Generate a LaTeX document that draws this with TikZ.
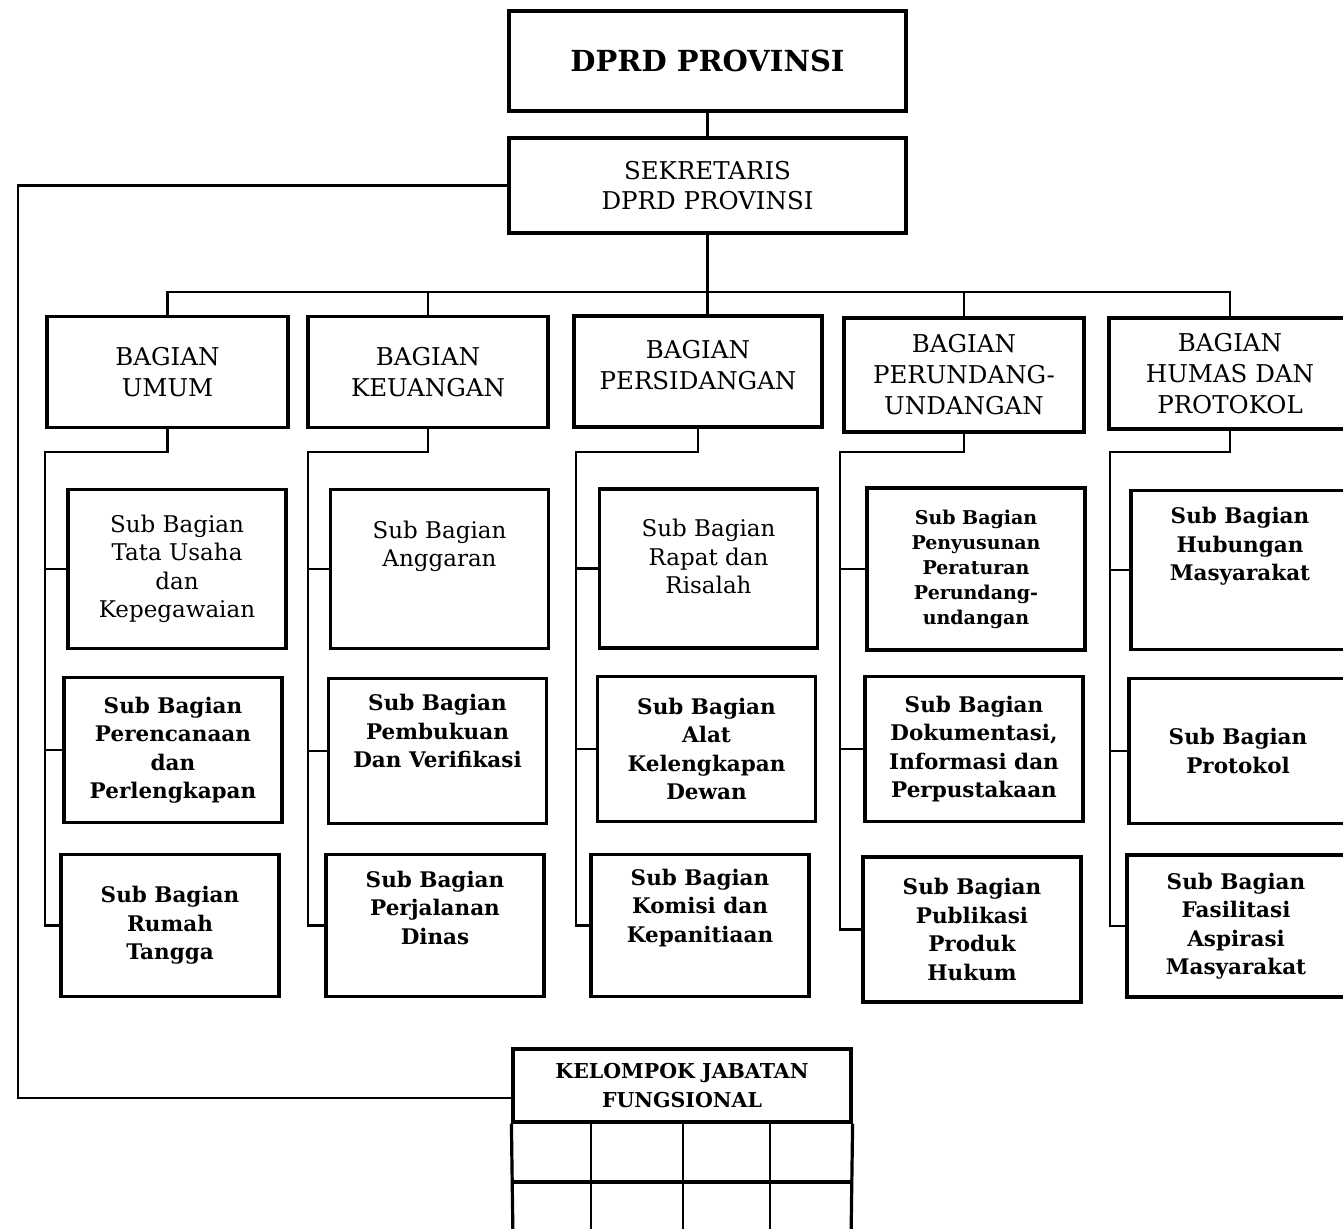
\documentclass[tikz,border=0pt]{standalone}
\usepackage{fontspec}
\setmainfont{DejaVu Serif}
\usetikzlibrary{calc}

\begin{document}
\begin{tikzpicture}[x=1pt,y=-1pt]
        \tikzset{box/.style = {shape=rectangle,draw,line width=3.2pt,align=center,inner sep=0pt}}
        \tikzset{edge/.style = {-,line width=2.6pt}}
        \tikzset{head/.style = {minimum width=397pt,font=\bfseries\fontsize{29pt}{35pt}\selectfont}}
        \tikzset{bag/.style = {minimum height=111pt,font=\fontsize{24.5pt}{31pt}\selectfont}}
        \tikzset{txt/.style = {font=\fontsize{23pt}{28.5pt}\selectfont}}
        \tikzset{btxt/.style = {font=\bfseries\fontsize{21.5pt}{28.5pt}\selectfont}}
        \tikzset{rowa/.style = {box,minimum width=218pt,minimum height=159pt}}
        \tikzset{rowb/.style = {box,minimum width=218pt,minimum height=145pt}}
        \tikzset{rowc/.style = {box,minimum width=218pt,minimum height=142pt}}
        \tikzset{lift/.style = {text depth=#1}}
        \useasboundingbox (0,0) rectangle (1343,1228);

        \node[box,head,minimum height=100pt] (dprd) at (707.5,61) {DPRD PROVINSI};
        \node[box,minimum width=397pt,minimum height=95pt,font=\fontsize{24.5pt}{30pt}\selectfont] (sek) at (707.5,185.5) {SEKRETARIS\\DPRD PROVINSI};

        \node[box,bag,minimum width=241pt] (umum) at (167.5,372) {BAGIAN\\UMUM};
        \node[box,bag,minimum width=240pt] (keu) at (428,372) {BAGIAN\\KEUANGAN};
        \node[box,bag,minimum width=248pt,lift=14pt] (pers) at (698,371.5) {BAGIAN\\PERSIDANGAN};
        \node[box,bag,minimum width=240pt,minimum height=114pt] (prd) at (964,375) {BAGIAN\\PERUNDANG-\\UNDANGAN};
        \node[box,bag,minimum width=242pt] (hms) at (1230,373.5) {BAGIAN\\HUMAS DAN\\PROTOKOL};

        \node[rowa,txt] (u1) at (177,569) {Sub Bagian\\Tata Usaha\\dan\\Kepegawaian};
        \node[rowb,btxt] (u2) at (173,750) {Sub Bagian\\Perencanaan\\dan\\Perlengkapan};
        \node[rowc,btxt] (u3) at (170,925.5) {Sub Bagian\\Rumah\\Tangga};

        \node[rowa,txt,lift=50pt] (k1) at (439.5,569) {Sub Bagian\\Anggaran};
        \node[rowb,btxt,lift=40pt] (k2) at (437.5,751) {Sub Bagian\\Pembukuan\\Dan Verifikasi};
        \node[rowc,btxt,lift=36pt] (k3) at (435,925.5) {Sub Bagian\\Perjalanan\\Dinas};

        \node[rowa,txt,lift=24pt] (p1) at (708.5,568.5) {Sub Bagian\\Rapat dan\\Risalah};
        \node[rowb,btxt] (p2) at (706.5,749) {Sub Bagian\\Alat\\Kelengkapan\\Dewan};
        \node[rowc,btxt,lift=40pt] (p3) at (700,925.5) {Sub Bagian\\Komisi dan\\Kepanitiaan};

        \node[rowa,btxt,minimum height=162pt,font=\bfseries\fontsize{19pt}{25pt}\selectfont] (r1) at (976,569) {Sub Bagian\\Penyusunan\\Peraturan\\Perundang-\\undangan};
        \node[rowb,btxt] (r2) at (974,749) {Sub Bagian\\Dokumentasi,\\Informasi dan\\Perpustakaan};
        \node[rowc,btxt,minimum height=145pt] (r3) at (972,929.5) {Sub Bagian\\Publikasi\\Produk\\Hukum};

        \node[rowa,btxt,lift=52pt] (h1) at (1240,570) {Sub Bagian\\Hubungan\\Masyarakat};
        \node[rowb,btxt] (h2) at (1238,751) {Sub Bagian\\Protokol};
        \node[rowc,btxt] (h3) at (1236,926) {Sub Bagian\\Fasilitasi\\Aspirasi\\Masyarakat};

        \node[box,minimum width=338pt,minimum height=73pt,font=\bfseries\fontsize{20.5pt}{29pt}\selectfont] (kjf) at (682,1085.5) {KELOMPOK JABATAN\\FUNGSIONAL};

        \coordinate (bus) at (707.5,292);
        \coordinate (lp) at (18,1098);
        \coordinate (spu) at (45,452);
        \coordinate (spk) at (308,452);
        \coordinate (spp) at (576,452);
        \coordinate (spr) at (840,452);
        \coordinate (sph) at (1110,452);

        \draw[edge] (dprd) to (sek);
        \draw[edge] (sek.south) to (sek.south |- pers.north);
        \draw[edge] (umum.north) |- (bus) -| (hms.north);
        \draw[edge] (keu.north) to (keu.north |- bus);
        \draw[edge] (prd.north) to (prd.north |- bus);
        \draw[edge] (sek.west) -| (lp) |- ([yshift=-12.5pt]kjf.west);

        \draw[edge] (umum.south) |- (spu) |- (u3.west);
        \draw[edge] (spu |- u1.west) to (u1.west);
        \draw[edge] (spu |- u2.west) to (u2.west);

        \draw[edge] (keu.south) |- (spk) |- (k3.west);
        \draw[edge] (spk |- k1.west) to (k1.west);
        \draw[edge] (spk |- k2.west) to (k2.west);

        \draw[edge] (pers.south) |- (spp) |- (p3.west);
        \draw[edge] (spp |- p1.west) to (p1.west);
        \draw[edge] (spp |- p2.west) to (p2.west);

        \draw[edge] (prd.south) |- (spr) |- (r3.west);
        \draw[edge] (spr |- r1.west) to (r1.west);
        \draw[edge] (spr |- r2.west) to (r2.west);

        \draw[edge] (hms.south) |- (sph) |- (h3.west);
        \draw[edge] (sph |- h1.west) to (h1.west);
        \draw[edge] (sph |- h2.west) to (h2.west);

        % table under the fungsional box
        \draw[line width=3.2pt] (kjf.south west) -- (513,1240);
        \draw[line width=3.2pt] (kjf.south east) -- (851,1240);
        \draw[edge] (591,1122) -- (591,1240);
        \draw[edge] (683,1122) -- (683,1240);
        \draw[edge] (770,1122) -- (770,1240);
        \draw[line width=3.2pt] (513,1182) -- (851,1182);
      \end{tikzpicture}
\end{document}
